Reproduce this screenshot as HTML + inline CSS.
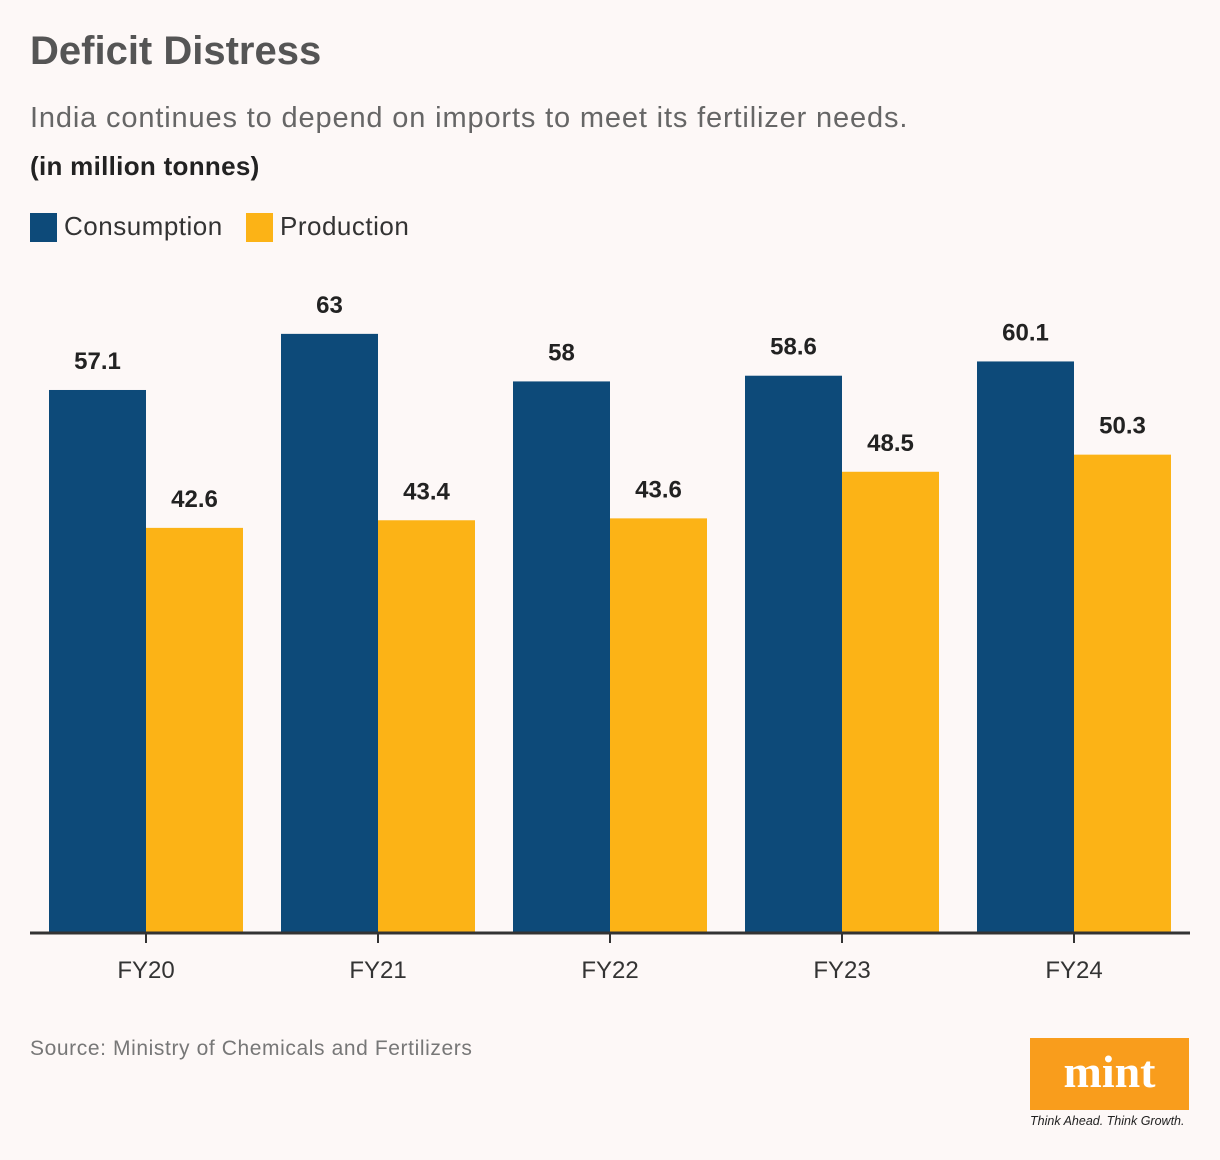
<!DOCTYPE html>
<html><head><meta charset="utf-8"><style>
body{margin:0;background:#fdf8f7;font-family:"Liberation Sans",sans-serif;}
#wrap{position:relative;width:1220px;height:1160px;overflow:hidden;background:#fdf8f7;}
.t{position:absolute;white-space:nowrap;}
</style></head><body>
<div id="wrap">
<div class="t" style="left:30px;top:29px;font-size:40px;font-weight:bold;color:#555;letter-spacing:0px">Deficit Distress</div>
<div class="t" style="left:30px;top:102px;font-size:29px;color:#666;letter-spacing:0.85px">India continues to depend on imports to meet its fertilizer needs.</div>
<div class="t" style="left:30px;top:151px;font-size:26px;font-weight:bold;color:#222;letter-spacing:0.3px">(in million tonnes)</div>
<div style="position:absolute;left:30px;top:213px;width:27px;height:29px;background:#0d4a79"></div>
<div class="t" style="left:64px;top:211px;font-size:26px;color:#333;letter-spacing:0.5px">Consumption</div>
<div style="position:absolute;left:246px;top:213px;width:27px;height:29px;background:#fcb316"></div>
<div class="t" style="left:280px;top:211px;font-size:26px;color:#333;letter-spacing:0.5px">Production</div>
<svg id="chart" width="1220" height="1160" style="position:absolute;left:0;top:0"></svg>
<div class="t" style="left:30px;top:1037px;font-size:21px;color:#777;letter-spacing:0.6px">Source: Ministry of Chemicals and Fertilizers</div>
<div style="position:absolute;left:1030px;top:1038px;width:159px;height:72px;background:#f99d1c;color:#fff;font-family:'Liberation Serif',serif;font-weight:bold;font-size:46px;text-align:center;line-height:68px">mint</div>
<div class="t" style="left:1030px;top:1114px;font-size:12.5px;font-style:italic;color:#222">Think Ahead. Think Growth.</div>
</div>
<script>
const categories=["FY20","FY21","FY22","FY23","FY24"];
const consumption=[57.1,63,58,58.6,60.1];
const production=[42.6,43.4,43.6,48.5,50.3];
const consumptionLabels=["57.1","63","58","58.6","60.1"];
const productionLabels=["42.6","43.4","43.6","48.5","50.3"];
const NS="http://www.w3.org/2000/svg";
const svg=document.getElementById('chart');
const base=933,k=9.51,x0=146,step=232,bw=97;
const yS=v=>base-v*k;
const xS=i=>x0+i*step;
function mk(t,a){const e=document.createElementNS(NS,t);for(const n in a)e.setAttribute(n,a[n]);svg.appendChild(e);return e;}
categories.forEach((c,i)=>{
  const cx=xS(i);
  let r=mk('rect',{x:cx-bw,y:yS(consumption[i]),width:bw,height:consumption[i]*k,fill:'#0d4a79'});
  
  
  r=mk('rect',{x:cx,y:yS(production[i]),width:bw,height:production[i]*k,fill:'#fcb316'});
  
  
  let t=mk('text',{x:cx-bw/2,y:yS(consumption[i])-21,'text-anchor':'middle','font-size':24,'font-weight':'bold',fill:'#222','font-family':'Liberation Sans, sans-serif'});
  t.textContent=consumptionLabels[i];
  
  
  t=mk('text',{x:cx+bw/2,y:yS(production[i])-21,'text-anchor':'middle','font-size':24,'font-weight':'bold',fill:'#222','font-family':'Liberation Sans, sans-serif'});
  t.textContent=productionLabels[i];
  
  
  let tk=mk('line',{x1:cx,x2:cx,y1:base,y2:base+10,stroke:'#333','stroke-width':2});
  
  
  t=mk('text',{x:cx,y:978,'text-anchor':'middle','font-size':24,fill:'#333','font-family':'Liberation Sans, sans-serif'});
  t.textContent=c;
  
  
});
const ax=mk('line',{x1:30,x2:1190,y1:base,y2:base,stroke:'#333','stroke-width':3});


</script>
</body></html>
